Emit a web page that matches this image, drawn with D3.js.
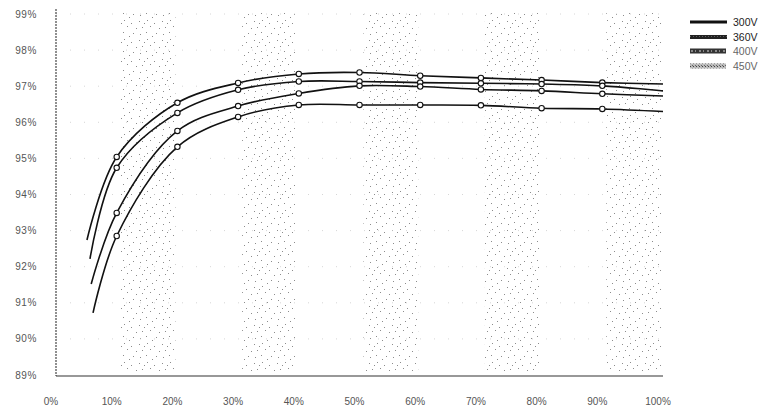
<!DOCTYPE html>
<html><head><meta charset="utf-8">
<script src="https://cdn.jsdelivr.net/npm/d3@7"></script>
<style>body{margin:0;background:#fff}svg{display:block}text{font-family:"Liberation Sans",Arial,sans-serif}</style>
</head><body>
<svg id="c" width="767" height="411"></svg>
<script>
const seriesNames = ["300V","360V","400V","450V"];
const loadPct = [10,20,30,40,50,60,70,80,90,100];
const startLoad = [5.1,5.6,5.8,6.1];
const startEff = [92.74,92.22,91.52,90.72];
const eff300 = [95.04,96.54,97.09,97.34,97.38,97.29,97.23,97.17,97.10,97.06];
const eff360 = [94.74,96.26,96.90,97.13,97.13,97.10,97.08,97.06,97.01,96.87];
const eff400 = [93.49,95.76,96.45,96.80,97.01,96.99,96.91,96.87,96.79,96.73];
const eff450 = [92.85,95.32,96.15,96.48,96.48,96.48,96.47,96.39,96.37,96.30];
const xTicks = [0,10,20,30,40,50,60,70,80,90,100];
const yTicks = [89,90,91,92,93,94,95,96,97,98,99];
const bands = [[10,20],[30,40],[50,60],[70,80],[90,100]];

const effs = [eff300,eff360,eff400,eff450];
const svg = d3.select("#c");
const x = d3.scaleLinear().domain([0,100]).range([56,663]);
const y = d3.scaleLinear().domain([89,99]).range([375,14]);

// stipple pattern
const defs = svg.append("defs");
const pat = defs.append("pattern").attr("id","stip").attr("patternUnits","userSpaceOnUse").attr("width",23).attr("height",19);
[[1,2],[9,1],[16,4],[21,9],[4,8],[12,7],[18,14],[2,15],[8,13],[14,17],[6,4]].forEach(p=>{
  pat.append("rect").attr("x",p[0]).attr("y",p[1]).attr("width",1).attr("height",1).attr("fill","#8c8c8c");
});
const pat2 = defs.append("pattern").attr("id","hatch").attr("patternUnits","userSpaceOnUse").attr("width",3).attr("height",3);
pat2.append("rect").attr("width",3).attr("height",3).attr("fill","#bbb");
pat2.append("rect").attr("width",1).attr("height",1).attr("fill","#444");
pat2.append("rect").attr("x",2).attr("y",2).attr("width",1).attr("height",1).attr("fill","#666");

svg.append("g").selectAll("rect").data(bands).join("rect")
  .attr("x",d=>x(d[0])+4).attr("width",d=>x(d[1])-x(d[0])-6)
  .attr("y",y(99)-2).attr("height",y(89)-y(99)+1)
  .attr("fill","url(#stip)");

// faint grid
svg.append("g").selectAll("line").data(yTicks.slice(1)).join("line")
  .attr("x1",x(0)).attr("x2",x(100)).attr("y1",d=>y(d)).attr("y2",d=>y(d))
  .attr("stroke","#ccc").attr("stroke-width",0.8).attr("stroke-dasharray","1,13");

// axes
svg.append("line").attr("x1",x(0)).attr("x2",x(0)).attr("y1",y(99)-5).attr("y2",y(89)+1)
  .attr("stroke","#555").attr("stroke-width",1.3).attr("stroke-dasharray","2,1");
svg.append("line").attr("x1",x(0)).attr("x2",x(100)).attr("y1",y(89)+1).attr("y2",y(89)+1)
  .attr("stroke","#333").attr("stroke-width",1.2);

svg.append("g").selectAll("text").data(yTicks).join("text")
  .attr("x",37).attr("y",d=>y(d)).attr("dy","0.35em").attr("text-anchor","end")
  .attr("font-size",10).attr("letter-spacing",0.6).attr("fill","#555").text(d=>d+"%");
svg.append("g").selectAll("text").data(xTicks).join("text")
  .attr("x",d=>x(d)-5).attr("y",405).attr("text-anchor","middle")
  .attr("font-size",10).attr("fill","#555").text(d=>d+"%");

// curves
const line = d3.line().x(d=>x(d[0])).y(d=>y(d[1])).curve(d3.curveCatmullRom.alpha(0.5));
effs.forEach((e,i)=>{
  const pts = [[startLoad[i],startEff[i]]].concat(loadPct.map((p,j)=>[p,e[j]]));
  svg.append("path").attr("d",line(pts)).attr("fill","none").attr("stroke","#111").attr("stroke-width",1.6);
  svg.append("g").selectAll("circle").data(pts.slice(1,10)).join("circle")
    .attr("cx",d=>x(d[0])).attr("cy",d=>y(d[1])).attr("r",2.7)
    .attr("fill","#fff").attr("stroke","#111").attr("stroke-width",1.1);
});

// legend
const lg = svg.append("g");
const ly = [22,37,51,66];
seriesNames.forEach((n,i)=>{
  const g = lg.append("g").attr("transform",`translate(690,${ly[i]})`);
  if(i===0) g.append("rect").attr("x",0).attr("y",-1.5).attr("width",37).attr("height",3).attr("fill","#111");
  if(i===1){ g.append("rect").attr("x",0).attr("y",-2).attr("width",37).attr("height",4).attr("fill","#222");
    g.append("line").attr("x1",0).attr("x2",37).attr("y1",-0.5).attr("y2",-0.5).attr("stroke","#888").attr("stroke-width",0.6).attr("stroke-dasharray","1,2"); }
  if(i===2){ g.append("rect").attr("x",0).attr("y",-2.5).attr("width",36).attr("height",5).attr("fill","#333");
    g.append("line").attr("x1",1).attr("x2",35).attr("y1",0).attr("y2",0).attr("stroke","#ddd").attr("stroke-width",1).attr("stroke-dasharray","2,2,1,3"); }
  if(i===3) g.append("rect").attr("x",0).attr("y",-2.5).attr("width",36).attr("height",5).attr("fill","url(#hatch)");
  g.append("text").attr("x",43).attr("y",0).attr("dy","0.35em").attr("font-size",10.5)
    .attr("fill",i<2?"#222":"#666").text(n);
});
</script>
</body></html>
